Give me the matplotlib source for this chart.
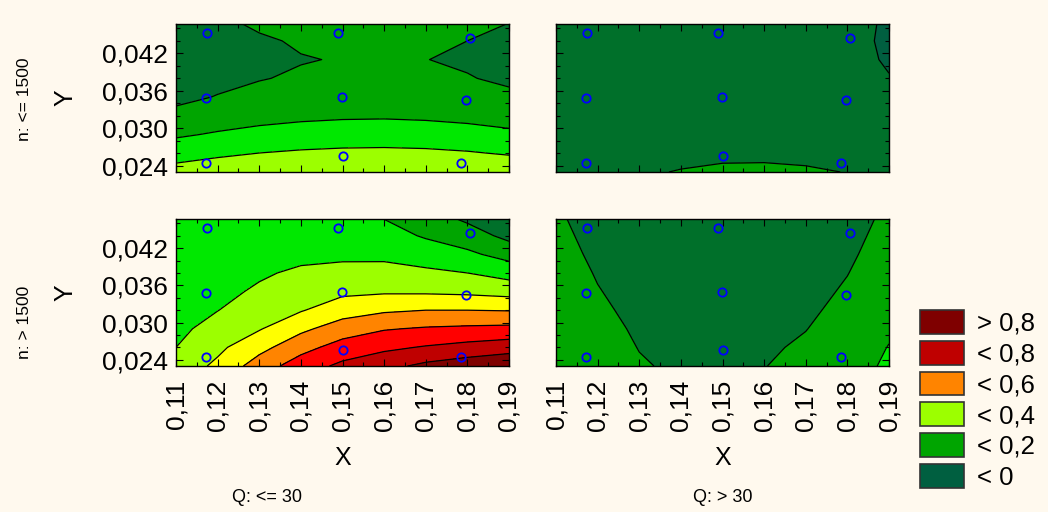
import numpy as np
import matplotlib
matplotlib.use("Agg")
import matplotlib.pyplot as plt
from matplotlib.patches import Patch
from matplotlib.ticker import MultipleLocator

plt.rcParams["font.family"] = ["Liberation Sans", "DejaVu Sans"]

# grid of the fitted surface
x_grid = [0.11, 0.12, 0.13, 0.14, 0.15, 0.16, 0.17, 0.18, 0.19]
y_grid = [0.023, 0.026, 0.029, 0.032, 0.035, 0.038, 0.041, 0.044, 0.047]

# rows = y_grid, columns = x_grid
z_n_low_q_low = [
    [0.337, 0.360, 0.379, 0.391, 0.398, 0.400, 0.396, 0.386, 0.370],
    [0.259, 0.282, 0.301, 0.313, 0.320, 0.322, 0.318, 0.308, 0.292],
    [0.187, 0.210, 0.229, 0.241, 0.248, 0.250, 0.246, 0.236, 0.220],
    [0.124, 0.149, 0.168, 0.181, 0.188, 0.190, 0.185, 0.175, 0.159],
    [0.078, 0.104, 0.124, 0.138, 0.146, 0.148, 0.143, 0.132, 0.115],
    [0.050, 0.076, 0.096, 0.110, 0.118, 0.120, 0.115, 0.104, 0.087],
    [0.036, 0.062, 0.082, 0.096, 0.104, 0.106, 0.101, 0.090, 0.073],
    [0.023, 0.061, 0.089, 0.109, 0.120, 0.122, 0.115, 0.100, 0.076],
    [0.044, 0.084, 0.115, 0.136, 0.147, 0.150, 0.143, 0.126, 0.101],
]
z_n_low_q_high = [
    [0.075, 0.086, 0.095, 0.102, 0.107, 0.108, 0.105, 0.099, 0.092],
    [0.068, 0.077, 0.084, 0.089, 0.092, 0.092, 0.090, 0.085, 0.078],
    [0.062, 0.069, 0.075, 0.079, 0.081, 0.081, 0.078, 0.072, 0.063],
    [0.058, 0.064, 0.068, 0.071, 0.072, 0.071, 0.067, 0.060, 0.047],
    [0.055, 0.060, 0.063, 0.065, 0.065, 0.063, 0.058, 0.048, 0.022],
    [0.054, 0.058, 0.060, 0.061, 0.060, 0.057, 0.050, 0.035, 0.003],
    [0.054, 0.057, 0.059, 0.059, 0.057, 0.053, 0.044, 0.025, -0.008],
    [0.055, 0.058, 0.059, 0.058, 0.055, 0.050, 0.040, 0.022, -0.012],
    [0.057, 0.060, 0.060, 0.059, 0.055, 0.050, 0.040, 0.025, -0.010],
]
z_n_high_q_low = [
    [0.340, 0.420, 0.549, 0.651, 0.722, 0.770, 0.823, 0.858, 0.887],
    [0.300, 0.379, 0.468, 0.566, 0.641, 0.680, 0.708, 0.733, 0.757],
    [0.275, 0.338, 0.393, 0.478, 0.550, 0.593, 0.610, 0.619, 0.626],
    [0.260, 0.298, 0.352, 0.393, 0.455, 0.486, 0.500, 0.500, 0.495],
    [0.250, 0.280, 0.311, 0.353, 0.380, 0.388, 0.386, 0.379, 0.363],
    [0.245, 0.270, 0.290, 0.313, 0.330, 0.331, 0.318, 0.300, 0.262],
    [0.240, 0.260, 0.275, 0.280, 0.280, 0.280, 0.254, 0.219, 0.164],
    [0.240, 0.255, 0.265, 0.265, 0.255, 0.238, 0.190, 0.147, 0.073],
    [0.240, 0.250, 0.255, 0.250, 0.230, 0.195, 0.140, 0.077, 0.020],
]
z_n_high_q_high = [
    [0.182, 0.137, 0.106, 0.089, 0.087, 0.098, 0.123, 0.162, 0.215],
    [0.175, 0.130, 0.098, 0.081, 0.077, 0.088, 0.112, 0.151, 0.203],
    [0.170, 0.123, 0.090, 0.071, 0.066, 0.075, 0.098, 0.136, 0.187],
    [0.162, 0.114, 0.080, 0.061, 0.055, 0.064, 0.086, 0.122, 0.173],
    [0.152, 0.104, 0.070, 0.050, 0.044, 0.052, 0.074, 0.110, 0.161],
    [0.142, 0.094, 0.060, 0.039, 0.033, 0.041, 0.062, 0.098, 0.148],
    [0.132, 0.083, 0.049, 0.029, 0.022, 0.030, 0.051, 0.087, 0.136],
    [0.122, 0.073, 0.039, 0.019, 0.012, 0.020, 0.041, 0.077, 0.126],
    [0.112, 0.063, 0.029, 0.009, 0.002, 0.010, 0.031, 0.067, 0.116],
]

# observed design points
pts_x = [0.1175, 0.1490, 0.1807, 0.1173, 0.1498, 0.1797, 0.1173, 0.1502, 0.1785]
pts_y = [0.0453, 0.0453, 0.0445, 0.0348, 0.0350, 0.0345, 0.0244, 0.0256, 0.0244]

levels = [-1.0, 0.0, 0.1, 0.2, 0.3, 0.4, 0.5, 0.6, 0.7, 0.8, 2.0]
level_colors = ["#005f40", "#00702a", "#00a500", "#00e800", "#9cff00",
                "#ffff00", "#ff8400", "#ff0000", "#bf0000", "#7f0000"]
legend_labels = ["> 0,8", "< 0,8", "< 0,6", "< 0,4", "< 0,2", "< 0"]
legend_idx = [9, 8, 6, 4, 2, 0]

x_ticks = [0.11, 0.12, 0.13, 0.14, 0.15, 0.16, 0.17, 0.18, 0.19]
x_tick_labels = ["0,11", "0,12", "0,13", "0,14", "0,15", "0,16", "0,17", "0,18", "0,19"]
y_ticks = [0.024, 0.030, 0.036, 0.042]
y_tick_labels = ["0,024", "0,030", "0,036", "0,042"]

row_labels = ["n: <= 1500", "n: > 1500"]
col_labels = ["Q: <= 30", "Q: > 30"]

W, H = 1048, 512
bg = "#fff9ee"
fig = plt.figure(figsize=(W / 100, H / 100), dpi=100, facecolor=bg)

# panel boxes in pixels: (left, top, right, bottom)
boxes = {
    (0, 0): (176, 24, 509, 172),
    (0, 1): (556, 24, 889, 172),
    (1, 0): (176, 219, 509, 366),
    (1, 1): (556, 219, 889, 366),
}
fields = {
    (0, 0): z_n_low_q_low,
    (0, 1): z_n_low_q_high,
    (1, 0): z_n_high_q_low,
    (1, 1): z_n_high_q_high,
}

X, Y = np.meshgrid(x_grid, y_grid)
for (r, c), (l, t, rr, b) in boxes.items():
    ax = fig.add_axes([l / W, 1 - b / H, (rr - l) / W, (b - t) / H])
    Z = np.array(fields[(r, c)])
    ax.contourf(X, Y, Z, levels=levels, colors=level_colors)
    ax.contour(X, Y, Z, levels=levels[1:-1], colors="black", linewidths=0.9)
    ax.plot(pts_x, pts_y, "o", ms=6, mfc="none", mec="#0000ff", mew=1.3)
    ax.set_xlim(0.11, 0.19)
    ax.set_ylim(0.023, 0.0467)
    ax.set_xticks(x_ticks)
    ax.set_yticks(y_ticks)
    ax.xaxis.set_minor_locator(MultipleLocator(0.005))
    ax.yaxis.set_minor_locator(MultipleLocator(0.002))
    ax.tick_params(which="both", direction="in", top=True, right=True, width=0.8)
    ax.tick_params(which="major", length=5)
    ax.tick_params(which="minor", length=3)
    if c == 0:
        ax.set_yticklabels(y_tick_labels, fontsize=19)
        ax.tick_params(axis="y", pad=6)
    else:
        ax.set_yticklabels([])
    if r == 1:
        ax.set_xticklabels(x_tick_labels, fontsize=19, rotation=90)
        ax.tick_params(axis="x", pad=10)
    else:
        ax.set_xticklabels([])
    for s in ax.spines.values():
        s.set_linewidth(1.0)

    if c == 0:
        fig.text(65 / W, 1 - ((t + b) / 2) / H, "Y", rotation=90,
                 ha="center", va="center", fontsize=18)
    if r == 1:
        fig.text(((l + rr) / 2) / W, 1 - 458 / H, "X",
                 ha="center", va="center", fontsize=18)

fig.text(25 / W, 1 - 99 / H, row_labels[0], rotation=90, ha="center", va="center", fontsize=12.5)
fig.text(25 / W, 1 - 322 / H, row_labels[1], rotation=90, ha="center", va="center", fontsize=12.5)
fig.text(267 / W, 1 - 497 / H, col_labels[0], ha="center", va="center", fontsize=13)
fig.text(723 / W, 1 - 497 / H, col_labels[1], ha="center", va="center", fontsize=13)

handles = [Patch(facecolor=level_colors[i], edgecolor="#333333", linewidth=1.2)
           for i in legend_idx]
fig.legend(handles, legend_labels, loc="upper left",
           bbox_to_anchor=(920 / W, 1 - 310 / H), frameon=False,
           fontsize=18.5, handlelength=1.72, handleheight=1.05,
           labelspacing=0.2, handletextpad=0.5, borderpad=0, borderaxespad=0)

fig.savefig("out.png", dpi=100, facecolor=bg)
